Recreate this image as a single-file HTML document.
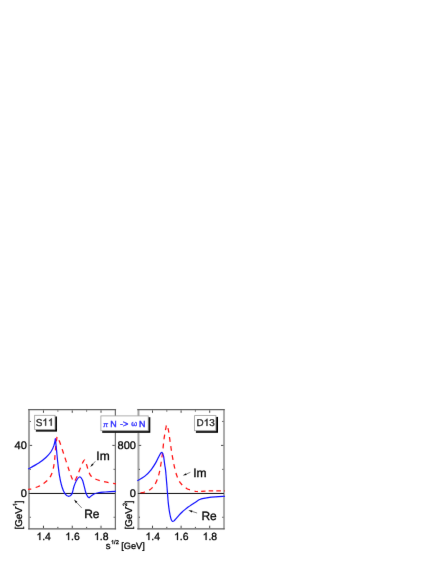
<!DOCTYPE html>
<html><head><meta charset="utf-8"><title>chart</title>
<style>
html,body{margin:0;padding:0;background:#fff;}
body{width:436px;height:564px;position:relative;overflow:hidden;font-family:"Liberation Sans",sans-serif;}
</style></head><body>
<svg width="436" height="564" viewBox="0 0 436 564" style="position:absolute;left:0;top:0">
<defs><filter id="b" x="0" y="0" width="436" height="564" filterUnits="userSpaceOnUse"><feConvolveMatrix order="3" kernelMatrix="0.00276 0.04704 0.00276 0.04704 0.80077 0.04704 0.00276 0.04704 0.00276" edgeMode="none" preserveAlpha="false"/></filter></defs>
<rect width="436" height="564" fill="#fff"/>
<g filter="url(#b)">
<path d="M29.00,409.20 V529.30" stroke="#a2a2a2" stroke-width="2.00" fill="none"/>
<path d="M115.40,409.20 V529.30" stroke="#6e6e6e" stroke-width="1.25" fill="none"/>
<path d="M138.45,409.20 V529.30" stroke="#a4a4a4" stroke-width="2.00" fill="none"/>
<path d="M224.00,409.20 V529.30" stroke="#969696" stroke-width="1.60" fill="none"/>
<path d="M28.20,409.70 H116.10 M28.20,528.85 H116.10" stroke="#5e5e5e" stroke-width="1.2" fill="none"/>
<path d="M137.30,409.70 H224.70 M137.30,528.85 H224.70" stroke="#5e5e5e" stroke-width="1.2" fill="none"/>
<path d="M43.48,410.40 v2.40 M43.48,528.10 v-2.40 M57.87,410.40 v1.20 M57.87,528.10 v-1.20 M72.25,410.40 v2.40 M72.25,528.10 v-2.40 M86.63,410.40 v1.20 M86.63,528.10 v-1.20 M101.02,410.40 v2.40 M101.02,528.10 v-2.40 M29.70,421.45 h1.20 M114.80,421.45 h-1.20 M29.70,445.40 h2.40 M114.80,445.40 h-2.40 M29.70,469.35 h1.20 M114.80,469.35 h-1.20 M29.70,517.25 h1.20 M114.80,517.25 h-1.20 M152.50,410.40 v2.40 M152.50,528.10 v-2.40 M166.80,410.40 v1.20 M166.80,528.10 v-1.20 M181.10,410.40 v2.40 M181.10,528.10 v-2.40 M195.40,410.40 v1.20 M195.40,528.10 v-1.20 M209.70,410.40 v2.40 M209.70,528.10 v-2.40 M138.80,421.45 h1.20 M223.40,421.45 h-1.20 M138.80,445.40 h2.40 M223.40,445.40 h-2.40 M138.80,469.35 h1.20 M223.40,469.35 h-1.20 M138.80,517.25 h1.20 M223.40,517.25 h-1.20" stroke="#333" stroke-width="0.9" fill="none"/>
<g fill="none" stroke-linejoin="round" stroke-linecap="butt">
<path d="M28.10,489.70 C29.82,489.17 35.65,487.67 38.40,486.50 C41.15,485.33 42.73,484.15 44.60,482.70 C46.47,481.25 48.25,479.77 49.60,477.80 C50.95,475.83 51.88,473.70 52.70,470.90 C53.52,468.10 53.98,465.15 54.50,461.00 C55.02,456.85 55.38,450.03 55.80,446.00 C56.22,441.97 56.80,438.33 57.00,436.80L57.00,436.80 C57.43,437.63 58.43,438.80 59.60,441.80 C60.77,444.80 62.45,450.15 64.00,454.80 C65.55,459.45 67.55,465.75 68.90,469.70 C70.25,473.65 71.22,476.52 72.10,478.50 C72.98,480.48 73.33,482.02 74.20,481.60 C75.07,481.18 76.27,478.28 77.30,476.00 C78.33,473.72 79.37,470.38 80.40,467.90 C81.43,465.42 82.78,462.43 83.50,461.10 C84.22,459.77 84.50,460.10 84.70,459.90L84.70,459.90 C85.02,460.72 85.97,462.95 86.60,464.80 C87.23,466.65 87.77,469.13 88.50,471.00 C89.23,472.87 89.67,474.58 91.00,476.00 C92.33,477.42 94.13,478.52 96.50,479.50 C98.87,480.48 101.95,481.18 105.20,481.90 C108.45,482.62 114.20,483.48 116.00,483.80" stroke="#ff1010" stroke-width="1.25" stroke-dasharray="4.7 4.4" stroke-dashoffset="1.4"/>
<path d="M137.30,493.30 C138.57,493.08 142.80,492.58 144.90,492.00 C147.00,491.42 148.35,490.88 149.90,489.80 C151.45,488.72 152.97,487.23 154.20,485.50 C155.43,483.77 156.37,481.92 157.30,479.40 C158.23,476.88 158.97,474.52 159.80,470.40 C160.63,466.28 161.58,460.02 162.30,454.70 C163.02,449.38 163.48,443.07 164.10,438.50 C164.72,433.93 165.53,429.55 166.00,427.30 C166.47,425.05 166.48,424.47 166.90,425.00 C167.32,425.53 167.83,426.80 168.50,430.50 C169.17,434.20 170.05,441.78 170.90,447.20 C171.75,452.62 172.65,458.37 173.60,463.00 C174.55,467.63 175.43,471.63 176.60,475.00 C177.77,478.37 178.93,480.97 180.60,483.20 C182.27,485.43 185.00,487.28 186.60,488.40 C188.20,489.52 189.60,489.65 190.20,489.90" stroke="#ff1010" stroke-width="1.25" stroke-dasharray="4.7 4.4" stroke-dashoffset="6.0"/>
<path d="M194.60,491.20 C195.02,491.25 196.03,491.48 197.10,491.50 C198.17,491.52 199.23,491.43 201.00,491.35 C202.77,491.27 205.20,491.07 207.70,491.00 C210.20,490.93 213.13,490.92 216.00,490.90 C218.87,490.88 223.42,490.90 224.90,490.90" stroke="#ff1010" stroke-width="1.25" stroke-dasharray="4.5 3.1" stroke-dashoffset="1.0"/>
<path d="M28.80,493.45 H115.10 M137.90,493.45 H224.00" stroke="#000" stroke-width="0.98"/>
<path d="M28.10,469.00 C29.82,468.05 35.43,465.22 38.40,463.30 C41.37,461.38 43.83,459.38 45.90,457.50 C47.97,455.62 49.47,453.98 50.80,452.00 C52.13,450.02 53.13,447.82 53.90,445.60 C54.67,443.38 55.15,439.85 55.40,438.70L55.40,438.70 C55.57,440.35 56.03,444.88 56.40,448.60 C56.77,452.32 57.08,456.45 57.60,461.00 C58.12,465.55 58.77,471.57 59.50,475.90 C60.23,480.23 61.07,484.00 62.00,487.00 C62.93,490.00 63.97,492.33 65.10,493.90 C66.23,495.47 67.67,496.40 68.80,496.40 C69.93,496.40 71.07,495.47 71.90,493.90 C72.73,492.33 73.08,489.15 73.80,487.00 C74.52,484.85 75.27,482.67 76.20,481.00 C77.13,479.33 78.38,477.22 79.40,477.00 C80.42,476.78 81.52,478.22 82.30,479.70 C83.08,481.18 83.48,483.63 84.10,485.90 C84.72,488.17 85.37,491.48 86.00,493.30 C86.63,495.12 87.35,496.07 87.90,496.80 C88.45,497.53 89.07,497.55 89.30,497.70L89.30,497.70 C89.58,497.43 90.20,496.72 91.00,496.10 C91.80,495.48 92.77,494.60 94.10,494.00 C95.43,493.40 97.15,492.83 99.00,492.50 C100.85,492.17 102.37,492.19 105.20,492.00 C108.03,491.81 114.20,491.46 116.00,491.35" stroke="#1010ff" stroke-width="1.2"/>
<path d="M137.30,480.80 C138.57,480.02 142.60,477.93 144.90,476.10 C147.20,474.27 149.23,472.13 151.10,469.80 C152.97,467.47 154.65,464.62 156.10,462.10 C157.55,459.58 158.83,456.32 159.80,454.70 C160.77,453.08 161.28,452.20 161.90,452.40 C162.52,452.60 163.03,453.87 163.50,455.90 C163.97,457.93 164.35,462.17 164.70,464.60 C165.05,467.03 165.28,467.60 165.60,470.50 C165.92,473.40 166.28,478.20 166.60,482.00 C166.92,485.80 167.23,489.95 167.50,493.30 C167.77,496.65 167.92,499.28 168.20,502.10 C168.48,504.92 168.85,507.85 169.20,510.20 C169.55,512.55 169.95,514.60 170.30,516.20 C170.65,517.80 170.92,518.92 171.30,519.80 C171.68,520.68 172.13,521.33 172.60,521.50 C173.07,521.67 173.52,521.28 174.10,520.80 C174.68,520.32 175.27,519.53 176.10,518.60 C176.93,517.67 178.08,516.30 179.10,515.20 C180.12,514.10 181.18,512.97 182.20,512.00 C183.22,511.03 184.20,510.23 185.20,509.40 C186.20,508.57 187.20,507.75 188.20,507.00 C189.20,506.25 190.18,505.58 191.20,504.90 C192.22,504.22 193.28,503.55 194.30,502.90 C195.32,502.25 196.42,501.55 197.30,501.00 C198.18,500.45 199.08,499.90 199.60,499.60 C200.12,499.30 199.95,499.37 200.40,499.20 C200.85,499.03 201.03,498.87 202.30,498.60 C203.57,498.33 205.82,497.88 208.00,497.60 C210.18,497.32 212.58,497.10 215.40,496.90 C218.22,496.70 223.32,496.48 224.90,496.40" stroke="#1010ff" stroke-width="1.2"/>
</g>
<rect x="35.85" y="416.50" width="21.15" height="15.10" fill="#000"/>
<rect x="34.65" y="415.30" width="20.35" height="14.30" fill="#fff" stroke="#9a9a9a" stroke-width="0.8"/>
<rect x="102.20" y="417.20" width="48.10" height="15.60" fill="#000"/>
<rect x="100.90" y="415.90" width="47.30" height="14.80" fill="#fff" stroke="#9a9a9a" stroke-width="0.8"/>
<rect x="195.90" y="416.90" width="22.10" height="15.90" fill="#000"/>
<rect x="194.60" y="415.60" width="21.30" height="15.10" fill="#fff" stroke="#9a9a9a" stroke-width="0.8"/>
<path d="M95.30,461.30 L92.87,464.07" stroke="#000" stroke-width="0.5" fill="none"/>
<path d="M90.30,467.00 L92.12,463.41 L93.62,464.73 Z" fill="#000"/>
<path d="M81.70,507.90 L76.65,502.46" stroke="#000" stroke-width="0.5" fill="none"/>
<path d="M74.00,499.60 L77.39,501.78 L75.92,503.14 Z" fill="#000"/>
<path d="M190.40,472.30 L186.38,474.05" stroke="#000" stroke-width="0.5" fill="none"/>
<path d="M182.80,475.60 L185.98,473.13 L186.78,474.96 Z" fill="#000"/>
<path d="M197.10,513.00 L192.12,511.46" stroke="#000" stroke-width="0.5" fill="none"/>
<path d="M188.40,510.30 L192.42,510.50 L191.83,512.41 Z" fill="#000"/>
<g font-family="Liberation Sans, sans-serif" fill="#000" stroke="#000" stroke-width="0.3" text-rendering="geometricPrecision">
<path d="M40.33,540.00H39.42V534.18Q39.09,534.49 38.55,534.81Q38.01,535.12 37.59,535.28V534.39Q38.35,534.03 38.93,533.52Q39.50,533.01 39.74,532.52H40.33Z" />
<text x="42.24" y="540.00" font-size="10.4" >.4</text>
<path d="M69.10,540.00H68.18V534.18Q67.85,534.49 67.32,534.81Q66.78,535.12 66.35,535.28V534.39Q67.12,534.03 67.70,533.52Q68.27,533.01 68.51,532.52H69.10Z" />
<text x="71.00" y="540.00" font-size="10.4" >.6</text>
<path d="M97.86,540.00H96.95V534.18Q96.62,534.49 96.08,534.81Q95.55,535.12 95.12,535.28V534.39Q95.89,534.03 96.46,533.52Q97.04,533.01 97.27,532.52H97.86Z" />
<text x="99.77" y="540.00" font-size="10.4" >.8</text>
<path d="M149.35,540.00H148.43V534.18Q148.10,534.49 147.57,534.81Q147.03,535.12 146.60,535.28V534.39Q147.37,534.03 147.95,533.52Q148.52,533.01 148.76,532.52H149.35Z" />
<text x="151.25" y="540.00" font-size="10.4" >.4</text>
<path d="M177.95,540.00H177.03V534.18Q176.70,534.49 176.17,534.81Q175.63,535.12 175.20,535.28V534.39Q175.97,534.03 176.55,533.52Q177.12,533.01 177.36,532.52H177.95Z" />
<text x="179.85" y="540.00" font-size="10.4" >.6</text>
<path d="M206.55,540.00H205.63V534.18Q205.30,534.49 204.77,534.81Q204.23,535.12 203.80,535.28V534.39Q204.57,534.03 205.15,533.52Q205.72,533.01 205.96,532.52H206.55Z" />
<text x="208.45" y="540.00" font-size="10.4" >.8</text>
<text x="26.80" y="449.20" font-size="11" text-anchor="end" >40</text>
<text x="26.80" y="496.90" font-size="11" text-anchor="end" >0</text>
<text x="135.90" y="449.20" font-size="11" text-anchor="end" >800</text>
<text x="135.90" y="496.90" font-size="11" text-anchor="end" >0</text>
<text x="35.70" y="425.70" font-size="10" >S</text>
<path d="M46.10,425.70H45.22V420.10Q44.90,420.40 44.39,420.70Q43.87,421.01 43.46,421.16V420.31Q44.20,419.96 44.75,419.47Q45.30,418.98 45.53,418.51H46.10Z" />
<path d="M51.66,425.70H50.78V420.10Q50.46,420.40 49.95,420.70Q49.43,421.01 49.02,421.16V420.31Q49.76,419.96 50.31,419.47Q50.86,418.98 51.09,418.51H51.66Z" />
<text x="196.57" y="425.90" font-size="9.9" >D</text>
<path d="M207.41,425.90H206.54V420.36Q206.22,420.66 205.71,420.95Q205.20,421.25 204.80,421.40V420.56Q205.53,420.22 206.07,419.73Q206.62,419.24 206.85,418.78H207.41Z" />
<text x="209.22" y="425.90" font-size="9.9" >3</text>
<text x="103.20" y="426.50" font-size="7.0" text-anchor="start" fill="#1010ff" stroke="#1010ff" stroke-width="0.3" font-style="italic">π</text>
<text x="110.30" y="426.55" font-size="8.9" text-anchor="start" fill="#1010ff" stroke="#1010ff" stroke-width="0.4">N</text>
<text x="119.90" y="426.55" font-size="9.2" text-anchor="start" fill="#1010ff" stroke="#1010ff" stroke-width="0.4">-&gt;</text>
<text x="131.20" y="426.20" font-size="7.6" text-anchor="start" fill="#1010ff" stroke="#1010ff" stroke-width="0.3">ω</text>
<text x="138.90" y="426.55" font-size="8.9" text-anchor="start" fill="#1010ff" stroke="#1010ff" stroke-width="0.4">N</text>
<text x="96.30" y="459.80" font-size="12" text-anchor="start" >Im</text>
<text x="84.20" y="517.90" font-size="12" text-anchor="start" >Re</text>
<text x="193.20" y="477.00" font-size="12" text-anchor="start" >Im</text>
<text x="201.40" y="520.20" font-size="12" text-anchor="start" >Re</text>
<text x="105.80" y="548.80" font-size="9.6" text-anchor="start" >s</text>
<path d="M113.09,544.10H112.59V540.96Q112.42,541.13 112.13,541.30Q111.84,541.47 111.61,541.56V541.08Q112.02,540.89 112.33,540.61Q112.64,540.33 112.77,540.08H113.09Z" />
<text x="114.11" y="544.10" font-size="5.6" >/2</text>
<text x="121.30" y="548.80" font-size="9.2" text-anchor="start" >[GeV]</text>
<g transform="translate(22.3,529.5) rotate(-90)">
<text x="0" y="0" font-size="9.8">[GeV</text><text x="21.23" y="-5.2" font-size="6">-</text>
<path d="M25.34,-5.20H24.81V-8.56Q24.62,-8.38 24.31,-8.20Q24.00,-8.02 23.75,-7.92V-8.43Q24.20,-8.64 24.53,-8.94Q24.86,-9.23 25.00,-9.51H25.34Z"/>
<text x="26.27" y="0" font-size="9.8">]</text></g>
<text transform="translate(132.35,529.5) rotate(-90)" font-size="9.8">[GeV<tspan font-size="6" dy="-5.2" dx="-1.1">-2</tspan><tspan dy="5.2" dx="-0.3">]</tspan></text>
</g>
</g>
</svg>
</body></html>
